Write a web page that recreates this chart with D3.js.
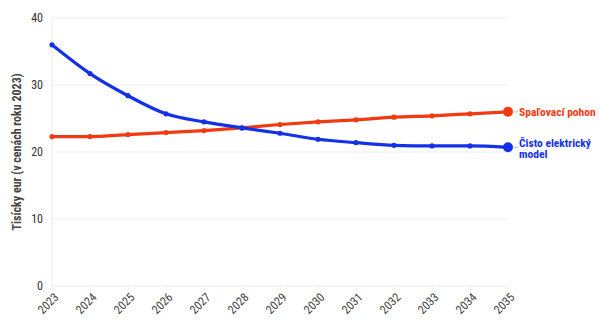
<!DOCTYPE html>
<html>
<head>
<meta charset="utf-8">
<script src="https://cdn.jsdelivr.net/npm/d3@7"></script>
<style>
  html, body { margin: 0; padding: 0; background: #fff; }
  svg text { font-family: "Roboto Condensed", "Liberation Sans Narrow", Roboto, sans-serif; }
</style>
</head>
<body>
<svg id="chart" width="600" height="331"></svg>
<script>
const years = [2023, 2024, 2025, 2026, 2027, 2028, 2029, 2030, 2031, 2032, 2033, 2034, 2035];
const combustion = [22.3, 22.3, 22.6, 22.9, 23.2, 23.6, 24.1, 24.5, 24.8, 25.2, 25.4, 25.7, 26.0];
const electric = [36.0, 31.7, 28.4, 25.7, 24.5, 23.6, 22.8, 21.9, 21.4, 21.0, 20.9, 20.9, 20.7];
const yTicks = [0, 10, 20, 30, 40];
const seriesNames = [["Spaľovací pohon"], ["Čisto elektrický", "model"]];
const yTitle = "Tisícky eur (v cenách roku 2023)";

const colors = ["#f23a12", "#1331e8"];
const svg = d3.select("#chart");
const m = { left: 52, right: 92, top: 18, bottom: 45 };
const W = 600, H = 331;

const x = d3.scalePoint().domain(years).range([m.left, W - m.right]);
const y = d3.scaleLinear().domain([0, 40]).range([H - m.bottom, m.top]);

// gridlines
svg.append("g").selectAll("line").data(yTicks).join("line")
  .attr("x1", m.left).attr("x2", W - m.right)
  .attr("y1", d => y(d)).attr("y2", d => y(d))
  .attr("stroke", "#ececec").attr("stroke-width", 1);
svg.append("line")
  .attr("x1", m.left).attr("x2", m.left)
  .attr("y1", y(40)).attr("y2", y(0))
  .attr("stroke", "#ececec");

// y axis
const yAxis = svg.append("g").attr("transform", `translate(${m.left},0)`)
  .call(d3.axisLeft(y).tickValues(yTicks).tickSize(0).tickPadding(9));
yAxis.select(".domain").remove();
yAxis.selectAll("text").attr("fill", "#333").attr("font-size", 12);

// x axis with rotated year labels
const xAxis = svg.append("g").attr("transform", `translate(0,${y(0)})`)
  .call(d3.axisBottom(x).tickSize(4).tickPadding(0));
xAxis.select(".domain").remove();
xAxis.selectAll(".tick line").attr("stroke", "#eeeeee");
xAxis.selectAll("text")
  .attr("fill", "#444").attr("font-size", 12)
  .attr("text-anchor", "end")
  .attr("x", 0).attr("y", 0).attr("dy", "0.35em")
  .attr("transform", "translate(4,9) rotate(-45)");

// y title
svg.append("text")
  .attr("transform", `translate(21,${(y(0) + y(40)) / 2}) rotate(-90)`)
  .attr("text-anchor", "middle")
  .attr("font-size", 12).attr("font-weight", "bold").attr("fill", "#444")
  .text(yTitle);

const line = d3.line().x((d, i) => x(years[i])).y(d => y(d)).curve(d3.curveMonotoneX);

[combustion, electric].forEach((vals, k) => {
  const g = svg.append("g");
  g.append("path").datum(vals)
    .attr("d", line).attr("fill", "none")
    .attr("stroke", colors[k]).attr("stroke-width", 3.2)
    .attr("stroke-linejoin", "round").attr("stroke-linecap", "round");
  g.selectAll("circle").data(vals).join("circle")
    .attr("cx", (d, i) => x(years[i])).attr("cy", d => y(d))
    .attr("r", (d, i) => i === vals.length - 1 ? 5 : 2.6)
    .attr("fill", colors[k]);
  const last = vals[vals.length - 1];
  const lx = x(years[years.length - 1]);
  g.append("line")
    .attr("x1", lx + 6).attr("x2", lx + 10)
    .attr("y1", y(last)).attr("y2", y(last))
    .attr("stroke", "#bbb");
  // end label, wrapped onto tight lines
  const lines = seriesNames[k];
  const y0 = y(last) + (lines.length > 1 ? -0.5 : 3.8);
  lines.forEach((s, j) => {
    g.append("text")
      .attr("x", lx + 11).attr("y", y0 + j * 11.5)
      .attr("font-size", 11.5).attr("font-weight", "bold").attr("fill", colors[k])
      .text(s);
  });
});
</script>
</body>
</html>
